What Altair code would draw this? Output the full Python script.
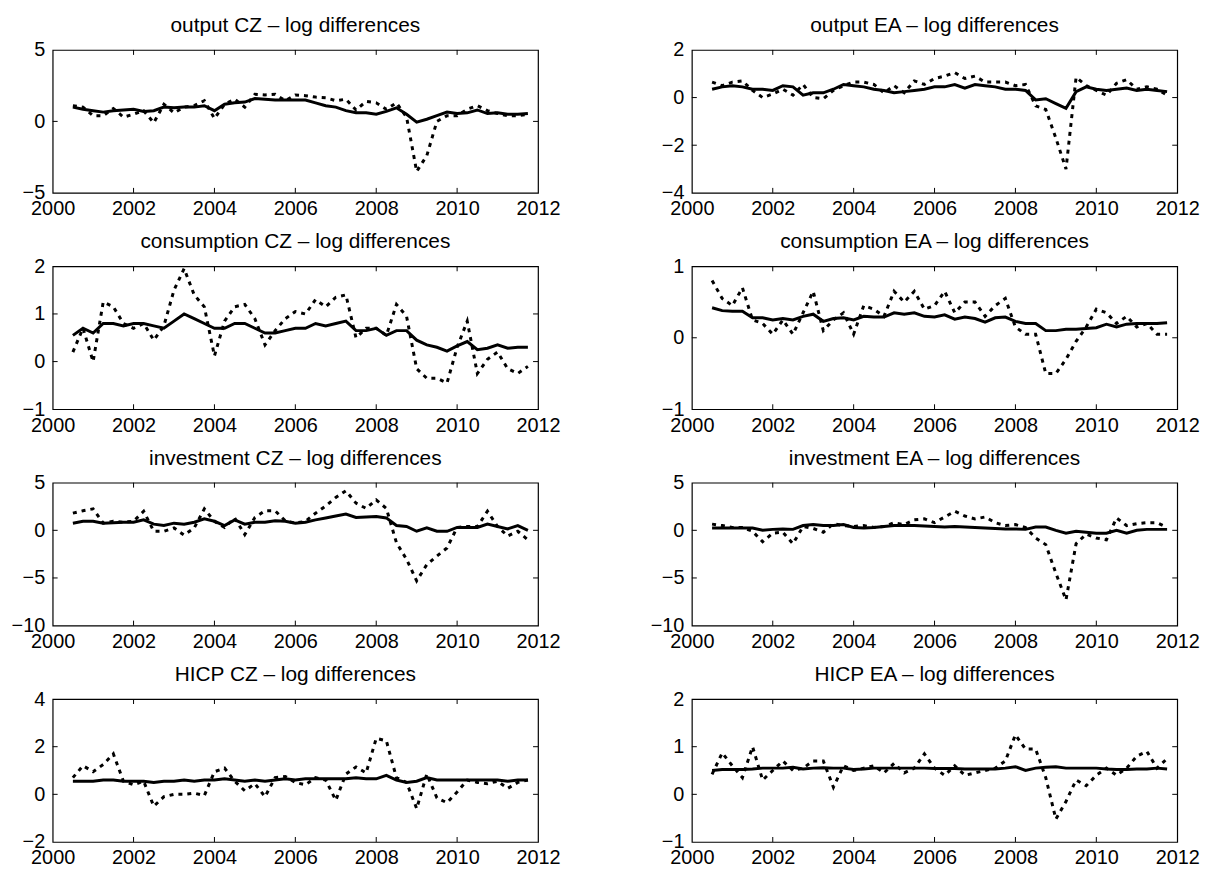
import altair as alt
import pandas as pd

QUARTERS = [2000.5, 2000.75, 2001.0, 2001.25, 2001.5, 2001.75, 2002.0, 2002.25, 2002.5, 2002.75,
            2003.0, 2003.25, 2003.5, 2003.75, 2004.0, 2004.25, 2004.5, 2004.75, 2005.0, 2005.25,
            2005.5, 2005.75, 2006.0, 2006.25, 2006.5, 2006.75, 2007.0, 2007.25, 2007.5, 2007.75,
            2008.0, 2008.25, 2008.5, 2008.75, 2009.0, 2009.25, 2009.5, 2009.75, 2010.0, 2010.25,
            2010.5, 2010.75, 2011.0, 2011.25, 2011.5, 2011.75]

OUT_CZ_DATA = [1.1, 1.0, 0.4, 0.4, 0.9, 0.3, 0.5, 0.75, -0.1, 1.2, 0.6, 1.0, 1.1, 1.45, 0.2, 1.2,
               1.55, 1.0, 1.9, 1.85, 1.9, 1.45, 1.85, 1.8, 1.7, 1.65, 1.45, 1.55, 0.8, 1.4, 1.3,
               0.85, 1.3, 0.3, -3.5, -2.4, 0.0, 0.4, 0.4, 0.85, 1.1, 0.75, 0.55, 0.4, 0.4, 0.5]
OUT_CZ_FIT = [1.0, 0.85, 0.75, 0.65, 0.75, 0.8, 0.85, 0.7, 0.75, 1.0, 0.95, 1.0, 1.0, 1.1, 0.75,
              1.2, 1.3, 1.35, 1.6, 1.55, 1.5, 1.5, 1.5, 1.5, 1.3, 1.1, 1.0, 0.75, 0.6, 0.6, 0.5,
              0.7, 0.95, 0.5, -0.05, 0.15, 0.4, 0.65, 0.55, 0.6, 0.8, 0.55, 0.6, 0.5, 0.5, 0.55]

OUT_EA_DATA = [0.65, 0.5, 0.65, 0.7, 0.3, 0.0, 0.15, 0.35, 0.1, 0.55, 0.0, -0.05, 0.3, 0.5, 0.65,
               0.65, 0.55, 0.2, 0.5, 0.2, 0.7, 0.55, 0.8, 0.9, 1.05, 0.8, 0.9, 0.65, 0.65, 0.65,
               0.5, 0.55, -0.35, -0.5, -1.7, -3.0, 0.85, 0.5, 0.3, 0.1, 0.6, 0.75, 0.35, 0.45,
               0.35, 0.1]
OUT_EA_FIT = [0.35, 0.45, 0.5, 0.45, 0.35, 0.35, 0.3, 0.5, 0.45, 0.1, 0.2, 0.2, 0.35, 0.55, 0.5,
              0.45, 0.35, 0.3, 0.2, 0.25, 0.3, 0.35, 0.45, 0.45, 0.55, 0.4, 0.55, 0.5, 0.45, 0.35,
              0.35, 0.3, -0.1, -0.05, -0.25, -0.45, 0.25, 0.45, 0.35, 0.3, 0.35, 0.4, 0.3, 0.35,
              0.3, 0.25]

CONS_CZ_DATA = [0.2, 0.7, 0.0, 1.25, 1.15, 0.8, 0.7, 0.8, 0.45, 0.75, 1.5, 1.95, 1.4, 1.15, 0.12,
                0.85, 1.15, 1.2, 0.9, 0.35, 0.65, 0.9, 1.05, 1.0, 1.3, 1.15, 1.35, 1.4, 0.5, 0.7,
                0.7, 0.55, 1.2, 0.95, -0.15, -0.35, -0.35, -0.45, 0.3, 0.85, -0.25, 0.05, 0.2,
                -0.15, -0.25, -0.1]
CONS_CZ_FIT = [0.55, 0.7, 0.6, 0.8, 0.8, 0.75, 0.8, 0.8, 0.75, 0.7, 0.85, 1.0, 0.9, 0.8, 0.7, 0.7,
               0.8, 0.8, 0.7, 0.6, 0.6, 0.65, 0.7, 0.7, 0.8, 0.75, 0.8, 0.85, 0.65, 0.65, 0.7,
               0.55, 0.65, 0.65, 0.45, 0.35, 0.3, 0.22, 0.33, 0.42, 0.25, 0.28, 0.35, 0.28, 0.3,
               0.3]

CONS_EA_DATA = [0.8, 0.55, 0.45, 0.7, 0.25, 0.2, 0.05, 0.25, 0.05, 0.35, 0.65, 0.1, 0.25, 0.35,
                0.05, 0.45, 0.4, 0.3, 0.65, 0.5, 0.65, 0.4, 0.45, 0.65, 0.35, 0.5, 0.5, 0.3, 0.45,
                0.55, 0.15, 0.05, 0.05, -0.5, -0.5, -0.3, -0.05, 0.15, 0.4, 0.35, 0.2, 0.3, 0.15,
                0.2, 0.05, 0.05]
CONS_EA_FIT = [0.42, 0.38, 0.37, 0.37, 0.28, 0.28, 0.25, 0.27, 0.25, 0.3, 0.33, 0.23, 0.27, 0.28,
               0.25, 0.3, 0.29, 0.29, 0.35, 0.33, 0.35, 0.3, 0.29, 0.32, 0.26, 0.29, 0.27, 0.22,
               0.28, 0.29, 0.23, 0.2, 0.2, 0.1, 0.1, 0.12, 0.12, 0.13, 0.14, 0.19, 0.15, 0.19,
               0.2, 0.2, 0.2, 0.21]

INV_CZ_DATA = [1.8, 2.05, 2.25, 0.75, 0.95, 0.85, 0.95, 2.0, -0.1, -0.1, 0.25, -0.5, 0.25, 2.25,
               0.95, 0.3, 1.3, -0.45, 1.35, 2.05, 2.05, 1.0, 0.75, 0.95, 1.8, 2.55, 3.45, 4.15,
               2.85, 2.3, 3.2, 2.3, -1.3, -3.05, -5.3, -3.6, -2.7, -1.85, 0.3, 0.4, 0.4, 2.0, 0.4,
               -0.6, -0.1, -1.0]
INV_CZ_FIT = [0.75, 0.95, 0.95, 0.75, 0.8, 0.85, 0.85, 1.1, 0.65, 0.5, 0.75, 0.65, 0.85, 1.2, 0.95,
              0.5, 1.1, 0.65, 0.85, 0.85, 1.0, 0.95, 0.75, 0.85, 1.1, 1.3, 1.5, 1.7, 1.35, 1.4,
              1.45, 1.3, 0.5, 0.4, -0.1, 0.25, -0.1, -0.1, 0.3, 0.3, 0.3, 0.65, 0.4, 0.15, 0.5,
              0.0]

INV_EA_DATA = [0.65, 0.5, 0.3, 0.3, -0.1, -1.2, -0.3, -0.2, -1.4, 0.4, 0.2, -0.2, 0.7, 0.5, 0.4,
               0.5, 0.3, 0.4, 0.8, 0.6, 1.1, 1.2, 0.8, 1.4, 2.0, 1.5, 1.2, 1.4, 0.8, 0.5, 0.6, 0.3,
               -0.8, -1.5, -4.5, -7.3, -1.4, -0.4, -0.8, -1.0, 1.3, 0.5, 0.7, 0.8, 0.8, 0.3]
INV_EA_FIT = [0.25, 0.25, 0.25, 0.25, 0.25, 0.0, 0.1, 0.15, 0.1, 0.5, 0.6, 0.5, 0.5, 0.6, 0.3,
              0.25, 0.3, 0.4, 0.5, 0.5, 0.5, 0.45, 0.4, 0.35, 0.4, 0.35, 0.3, 0.25, 0.2, 0.15,
              0.15, 0.1, 0.35, 0.35, 0.0, -0.3, -0.1, -0.2, -0.3, -0.3, 0.0, -0.3, 0.0, 0.1, 0.1,
              0.1]

HICP_CZ_DATA = [0.7, 1.2, 0.95, 1.25, 1.7, 0.55, 0.4, 0.55, -0.5, -0.1, 0.0, 0.0, 0.05, -0.05,
                0.95, 1.1, 0.55, 0.15, 0.45, -0.1, 0.7, 0.75, 0.5, 0.4, 0.7, 0.6, -0.25, 0.85,
                1.15, 0.9, 2.35, 2.25, 0.7, 0.5, -0.6, 0.85, -0.15, -0.35, 0.1, 0.6, 0.5, 0.45,
                0.55, 0.25, 0.5, 0.6]
HICP_CZ_FIT = [0.55, 0.55, 0.55, 0.6, 0.6, 0.55, 0.55, 0.55, 0.5, 0.55, 0.55, 0.6, 0.55, 0.6, 0.6,
               0.65, 0.6, 0.55, 0.6, 0.55, 0.6, 0.65, 0.6, 0.65, 0.65, 0.65, 0.65, 0.65, 0.7,
               0.65, 0.65, 0.8, 0.6, 0.5, 0.55, 0.7, 0.6, 0.6, 0.6, 0.6, 0.6, 0.6, 0.6, 0.55, 0.6,
               0.6]

HICP_EA_DATA = [0.42, 0.87, 0.6, 0.35, 1.0, 0.3, 0.5, 0.7, 0.5, 0.55, 0.7, 0.7, 0.15, 0.6, 0.5,
                0.55, 0.6, 0.45, 0.65, 0.45, 0.55, 0.85, 0.55, 0.4, 0.6, 0.4, 0.45, 0.5, 0.55, 0.7,
                1.25, 0.95, 0.95, 0.35, -0.52, -0.15, 0.3, 0.18, 0.4, 0.55, 0.4, 0.55, 0.8, 0.9,
                0.55, 0.75]
HICP_EA_FIT = [0.5, 0.52, 0.52, 0.52, 0.53, 0.55, 0.55, 0.55, 0.57, 0.53, 0.55, 0.56, 0.55, 0.55,
               0.52, 0.53, 0.55, 0.55, 0.55, 0.55, 0.55, 0.55, 0.54, 0.54, 0.54, 0.53, 0.53, 0.53,
               0.53, 0.55, 0.58, 0.5, 0.55, 0.57, 0.58, 0.55, 0.55, 0.55, 0.55, 0.53, 0.52, 0.52,
               0.53, 0.53, 0.55, 0.53]

TITLES = ["output CZ \u2013 log differences", "output EA \u2013 log differences",
          "consumption CZ \u2013 log differences", "consumption EA \u2013 log differences",
          "investment CZ \u2013 log differences", "investment EA \u2013 log differences",
          "HICP CZ \u2013 log differences", "HICP EA \u2013 log differences"]
Y_TICKS = [[-5, 0, 5], [-4, -2, 0, 2], [-1, 0, 1, 2], [-1, 0, 1],
           [-10, -5, 0, 5], [-10, -5, 0, 5], [-2, 0, 2, 4], [-1, 0, 1, 2]]
X_TICKS = [2000, 2002, 2004, 2006, 2008, 2010, 2012]
SERIES = [(OUT_CZ_DATA, OUT_CZ_FIT), (OUT_EA_DATA, OUT_EA_FIT),
          (CONS_CZ_DATA, CONS_CZ_FIT), (CONS_EA_DATA, CONS_EA_FIT),
          (INV_CZ_DATA, INV_CZ_FIT), (INV_EA_DATA, INV_EA_FIT),
          (HICP_CZ_DATA, HICP_CZ_FIT), (HICP_EA_DATA, HICP_EA_FIT)]

W, H = 489, 144
FONT = "Liberation Sans"
FS = 20          # tick labels
TFS = 21         # panel titles
TL = 5           # inward tick length


def panel(title, data_vals, fit_vals, yticks):
    n = len(QUARTERS)
    df = pd.DataFrame({"t": QUARTERS * 2, "v": data_vals + fit_vals,
                       "s": ["data"] * n + ["fit"] * n})
    xs = alt.Scale(domain=[X_TICKS[0], X_TICKS[-1]], nice=False, zero=False)
    ys = alt.Scale(domain=[yticks[0], yticks[-1]], nice=False, zero=False)
    xax = alt.Axis(values=X_TICKS, format="d", ticks=False, domain=False, grid=False,
                   labelPadding=6, labelFlush=False, labelOverlap=False,
                   labelFont=FONT, labelFontSize=FS, labelColor="black")
    yax = alt.Axis(tickCount=len(yticks) - 1, format="d", ticks=False,
                   domain=False, grid=False, labelPadding=8, labelFlush=False,
                   labelOverlap=False, labelFont=FONT, labelFontSize=FS,
                   labelColor="black")
    X = alt.X("t:Q", scale=xs, axis=xax, title=None)
    Y = alt.Y("v:Q", scale=ys, axis=yax, title=None)
    base = alt.Chart(df)
    dotted = base.transform_filter(alt.datum.s == "data").mark_line(
        color="black", strokeWidth=3, strokeDash=[4, 5], clip=True
    ).encode(x=X, y=Y)
    solid = base.transform_filter(alt.datum.s == "fit").mark_line(
        color="black", strokeWidth=3, clip=True
    ).encode(x=X, y=Y)

    xt = pd.DataFrame({"t": X_TICKS[1:-1]})
    yt = pd.DataFrame({"v": yticks[1:-1]})
    tb = alt.Chart(xt).mark_rule(color="black", strokeWidth=1).encode(
        x=X, y=alt.value(H), y2=alt.value(H - TL))
    tt = alt.Chart(xt).mark_rule(color="black", strokeWidth=1).encode(
        x=X, y=alt.value(0), y2=alt.value(TL))
    tl = alt.Chart(yt).mark_rule(color="black", strokeWidth=1).encode(
        y=Y, x=alt.value(0), x2=alt.value(TL))
    tr = alt.Chart(yt).mark_rule(color="black", strokeWidth=1).encode(
        y=Y, x=alt.value(W), x2=alt.value(W - TL))

    return alt.layer(dotted, solid, tb, tt, tl, tr).properties(
        width=W, height=H,
        title=alt.Title(title, fontSize=TFS, font=FONT, fontWeight="normal",
                        color="black", offset=4, frame="group"))


panels = [panel(TITLES[k], SERIES[k][0], SERIES[k][1], Y_TICKS[k]) for k in range(8)]

chart = alt.concat(*panels, columns=2, spacing={"row": 74, "column": 155}, bounds="flush").properties(
    padding={"left": 2, "top": 3, "right": 5, "bottom": 0},
    background="white"
).configure_view(
    stroke="black", strokeWidth=1.2
).configure_axis(
    labelFont=FONT, labelFontSize=FS, labelColor="black", labelOverlap=False
)

chart.save("out.html", embed_options={"renderer": "svg", "actions": False})
